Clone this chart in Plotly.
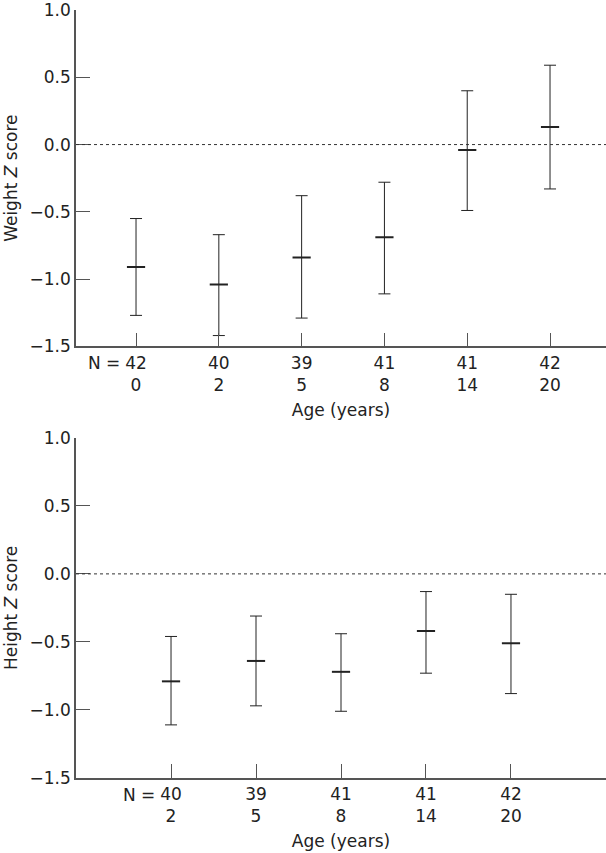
import plotly.graph_objects as go
from plotly.subplots import make_subplots

# ---- data ----
weight_ages = ["0", "2", "5", "8", "14", "20"]
weight_n = [42, 40, 39, 41, 41, 42]
weight_mean = [-0.91, -1.04, -0.84, -0.69, -0.04, 0.13]
weight_upper = [-0.55, -0.67, -0.38, -0.28, 0.40, 0.59]
weight_lower = [-1.27, -1.42, -1.29, -1.11, -0.49, -0.33]

height_ages = ["2", "5", "8", "14", "20"]
height_n = [40, 39, 41, 41, 42]
height_mean = [-0.79, -0.64, -0.72, -0.42, -0.51]
height_upper = [-0.46, -0.31, -0.44, -0.13, -0.15]
height_lower = [-1.11, -0.97, -1.01, -0.73, -0.88]

y_ticks = [-1.5, -1.0, -0.5, 0.0, 0.5, 1.0]

FONT = "DejaVu Sans"
TXT = "#222222"
AX = "#555555"
BAR = "#222222"

fig = make_subplots(rows=2, cols=1, vertical_spacing=0.117)


def add_panel(row, ages, ns, mean, upper, lower):
    xs = list(range(len(ages)))
    fig.add_trace(go.Scatter(
        x=xs, y=mean, mode="markers",
        marker=dict(symbol="line-ew", size=13, color=BAR,
                    line=dict(width=2, color=BAR)),
        error_y=dict(type="data", symmetric=False,
                     array=[u - m for u, m in zip(upper, mean)],
                     arrayminus=[m - l for m, l in zip(mean, lower)],
                     color=BAR, thickness=1, width=6),
        showlegend=False, hoverinfo="skip"), row=row, col=1)
    ticktext = [f"{n}<br>{a}" for n, a in zip(ns, ages)]
    return xs, ticktext


xs1, tt1 = add_panel(1, weight_ages, weight_n, weight_mean, weight_upper, weight_lower)
xs2, tt2 = add_panel(2, height_ages, height_n, height_mean, height_upper, height_lower)

axis_common = dict(showline=True, linecolor=AX, linewidth=1.5, ticks="inside",
                   ticklen=14, tickcolor=AX, tickwidth=1, showgrid=False,
                   zeroline=False, automargin=False, ticklabeloverflow="allow",
                   tickfont=dict(family=FONT, size=17, color=TXT))

fig.update_xaxes(axis_common)
fig.update_yaxes(axis_common)

title_font = dict(family=FONT, size=17, color=TXT)
fig.update_xaxes(range=[-0.725, 5.676], tickvals=xs1, ticktext=tt1,
                 title=dict(text="Age (years)", font=title_font, standoff=10),
                 row=1, col=1)
fig.update_xaxes(range=[-1.118, 5.118], tickvals=xs2, ticktext=tt2,
                 title=dict(text="Age (years)", font=title_font, standoff=10),
                 row=2, col=1)
fig.update_yaxes(range=[-1.5005, 1.0005], tickvals=y_ticks, tickformat=".1f",
                 title=dict(text="Weight <i>Z</i> score", font=title_font, standoff=8),
                 row=1, col=1)
fig.update_yaxes(range=[-1.5005, 1.0005], tickvals=y_ticks, tickformat=".1f",
                 title=dict(text="Height <i>Z</i> score", font=title_font, standoff=8),
                 row=2, col=1)

fig.update_layout(
    width=606, height=853,
    margin=dict(l=76, r=0, t=10, b=75),
    plot_bgcolor="white", paper_bgcolor="white",
    font=dict(family=FONT, size=17, color=TXT),
)
fig.layout.yaxis.domain = [0.562, 1.0]
fig.layout.yaxis2.domain = [0.0, 0.443]

# dotted reference lines at zero
for yref, xref in (("y", "x domain"), ("y2", "x2 domain")):
    fig.add_shape(type="line", xref=xref, yref=yref, x0=0, x1=1, y0=0, y1=0,
                  line=dict(color="#333333", width=1, dash="dot"))

# "N =" prefix to the left of the first tick label
for xref, yref in (("x", "y"), ("x2", "y2")):
    fig.add_annotation(x=0, y=-1.5, xref=xref, yref=yref, text="N =",
                       showarrow=False, xanchor="right", yanchor="top",
                       xshift=-14, yshift=-5,
                       font=dict(family=FONT, size=17, color=TXT))

fig.write_html("out.html", config={"displayModeBar": False},
               post_script="document.body.style.margin='0';document.body.style.overflow='hidden';")
